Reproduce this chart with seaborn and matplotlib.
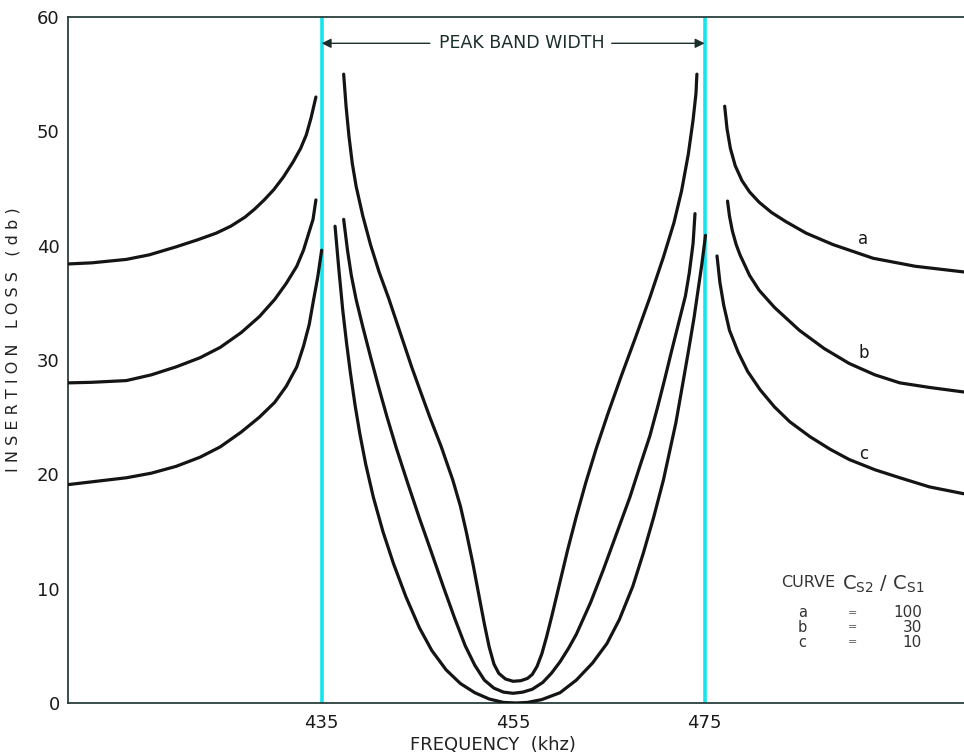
import numpy as np
import pandas as pd
import matplotlib
matplotlib.use('Agg')
import matplotlib.pyplot as plt
import seaborn as sns

# ── Data (frequency in khz, insertion loss in db) ──────────────────────────────
# curve a (Cs2/Cs1 = 100)
a_low_f = [408.5, 411.0, 414.6, 417.0, 419.8, 422.0, 424.0, 425.5, 427.0, 428.0, 429.0,
           430.0, 431.0, 432.0, 432.8, 433.4, 433.9, 434.4]
a_low_db = [38.4, 38.5, 38.8, 39.2, 39.9, 40.5, 41.1, 41.7, 42.5, 43.2, 44.0,
            44.9, 46.0, 47.3, 48.5, 49.7, 51.2, 53.0]
a_pass_f = [437.3, 437.55, 437.85, 438.2, 438.6, 439.3, 440.1, 441.0, 442.0, 442.8, 443.6,
            444.4, 445.3, 446.3, 447.5, 448.7, 449.5, 450.1, 450.8, 451.5, 452.0, 452.5,
            453.0, 453.5, 454.2, 455.0, 455.8, 456.5, 457.0, 457.5, 458.0, 458.5, 459.1,
            459.9, 460.7, 461.6, 462.6, 463.7, 464.9, 466.3, 467.8, 469.3, 470.7, 471.8,
            472.6, 473.3, 473.8, 474.1, 474.2]
a_pass_db = [55.0, 52.2, 49.6, 47.2, 45.2, 42.6, 40.1, 37.7, 35.4, 33.4, 31.4,
             29.4, 27.3, 25.0, 22.4, 19.5, 17.2, 15.0, 12.2, 9.1, 6.9, 4.9,
             3.4, 2.6, 2.1, 1.9, 1.95, 2.15, 2.5, 3.2, 4.3, 5.8, 7.8,
             10.6, 13.4, 16.3, 19.3, 22.3, 25.3, 28.6, 32.0, 35.5, 39.0, 42.0,
             44.8, 48.0, 51.0, 53.3, 55.0]
a_high_f = [477.1, 477.35, 477.7, 478.2, 478.9, 479.7, 480.7, 482.0, 483.5, 485.6, 488.4,
            492.6, 497.0, 502.1]
a_high_db = [52.2, 50.2, 48.5, 47.0, 45.7, 44.7, 43.8, 42.9, 42.1, 41.1, 40.1,
             38.9, 38.2, 37.7]

# curve b (Cs2/Cs1 = 30)
b_low_f = [408.5, 411.0, 414.6, 417.2, 419.8, 422.3, 424.4, 426.6, 428.5, 430.1, 431.3,
           432.4, 433.1, 434.1, 434.4]
b_low_db = [28.0, 28.05, 28.2, 28.7, 29.4, 30.2, 31.1, 32.4, 33.8, 35.3, 36.7,
            38.2, 39.6, 42.3, 44.0]
b_pass_f = [437.3, 437.7, 438.1, 438.6, 439.3, 440.1, 440.9, 441.8, 442.8, 444.0, 445.2,
            446.5, 447.7, 448.9, 450.0, 451.0, 452.0, 453.0, 454.0, 455.0, 456.0, 457.0,
            458.1, 459.0, 459.9, 460.8, 461.6, 463.1, 464.4, 465.8, 467.2, 468.2, 469.3,
            470.1, 470.8, 471.5, 472.4, 473.0, 473.4, 473.8, 474.0]
b_pass_db = [42.3, 39.6, 37.4, 35.3, 32.9, 30.3, 27.8, 25.1, 22.3, 19.2, 16.2,
             13.1, 10.2, 7.4, 5.0, 3.3, 2.0, 1.3, 0.95, 0.85, 0.95, 1.2,
             1.8, 2.6, 3.6, 4.8, 6.0, 8.8, 11.6, 14.8, 18.0, 20.6, 23.4,
             25.9, 28.2, 30.6, 33.6, 35.6, 37.6, 40.2, 42.8]
b_high_f = [477.4, 477.6, 477.9, 478.3, 478.7, 479.7, 480.7, 482.3, 484.9, 487.5, 490.1,
            492.8, 495.4, 498.5, 502.1]
b_high_db = [43.9, 42.6, 41.3, 40.1, 39.2, 37.4, 36.1, 34.6, 32.6, 31.0, 29.7,
             28.7, 28.0, 27.6, 27.2]

# curve c (Cs2/Cs1 = 10)
c_low_f = [408.5, 414.6, 417.2, 419.8, 422.3, 424.4, 426.6, 428.5, 430.1, 431.3, 432.4,
           433.1, 433.7, 434.1, 434.6, 435.0]
c_low_db = [19.1, 19.7, 20.1, 20.7, 21.5, 22.4, 23.7, 25.0, 26.3, 27.7, 29.4,
            31.2, 33.1, 35.0, 37.3, 39.6]
c_pass_f = [436.4, 436.8, 437.2, 437.6, 438.0, 438.5, 439.0, 439.6, 440.4, 441.4, 442.5,
            443.8, 445.2, 446.5, 448.0, 449.5, 451.0, 452.5, 454.0, 455.3, 456.5, 458.0,
            459.9, 461.6, 463.3, 464.8, 466.1, 467.5, 468.6, 469.7, 470.7, 472.0, 472.8,
            473.4, 473.9, 474.3, 474.7, 475.1]
c_pass_db = [41.7, 37.9, 34.4, 31.5, 28.9, 26.0, 23.5, 20.9, 18.0, 15.0, 12.2,
             9.3, 6.6, 4.6, 2.9, 1.7, 0.9, 0.35, 0.05, 0.0, 0.05, 0.3,
             0.9, 2.0, 3.5, 5.2, 7.3, 10.2, 13.1, 16.3, 19.5, 24.5, 28.3,
             31.2, 33.7, 36.0, 38.3, 40.9]
c_high_f = [476.3, 476.6, 477.0, 477.6, 478.5, 479.5, 480.8, 482.3, 483.9, 486.0, 488.1,
            490.1, 492.8, 495.4, 498.5, 502.1]
c_high_db = [39.1, 36.8, 34.8, 32.6, 30.7, 29.0, 27.4, 25.9, 24.6, 23.3, 22.2,
             21.3, 20.4, 19.7, 18.9, 18.3]

band_edges = [435, 475]
x_ticks = [435, 455, 475]
y_ticks = [0, 10, 20, 30, 40, 50, 60]
curve_names = ['a', 'b', 'c']
cs_ratios = ['100', '30', '10']

segments = {
    ('a', 'low'): (a_low_f, a_low_db), ('a', 'pass'): (a_pass_f, a_pass_db), ('a', 'high'): (a_high_f, a_high_db),
    ('b', 'low'): (b_low_f, b_low_db), ('b', 'pass'): (b_pass_f, b_pass_db), ('b', 'high'): (b_high_f, b_high_db),
    ('c', 'low'): (c_low_f, c_low_db), ('c', 'pass'): (c_pass_f, c_pass_db), ('c', 'high'): (c_high_f, c_high_db),
}
rows = []
for (curve, part), (fs, dbs) in segments.items():
    for f, db in zip(fs, dbs):
        rows.append({'freq': f, 'loss': db, 'seg': f'{curve}-{part}'})
df = pd.DataFrame(rows)

# ── Plot ───────────────────────────────────────────────────────────────────────
sns.set_style('white')
plt.rcParams['font.family'] = ['DejaVu Sans']
ink = '#2a3f3c'

fig = plt.figure(figsize=(9.64, 7.56), dpi=100)
ax = fig.add_axes([0.0705, 0.0701, 0.9295, 0.9074])

for edge in band_edges:
    ax.axvline(edge, color='#14e4ee', lw=2.6, zorder=1)

sns.lineplot(data=df, x='freq', y='loss', units='seg', estimator=None, sort=False,
             color='#141414', lw=2.3, ax=ax, zorder=3,
             solid_capstyle='round', solid_joinstyle='round')

ax.set_xlim(408.5, 502.1)
ax.set_ylim(0, 60)
ax.set_xticks(x_ticks)
ax.set_yticks(y_ticks)
ax.tick_params(axis='both', direction='in', length=10, width=1.2, color=ink,
               labelsize=13, labelcolor='#1a1a1a')
ax.tick_params(axis='y', pad=6)
ax.tick_params(axis='x', pad=8)
for side in ['left', 'top', 'bottom']:
    ax.spines[side].set_color(ink)
    ax.spines[side].set_linewidth(1.3)
ax.spines['right'].set_visible(False)

ax.set_xlabel('')
ax.set_ylabel('I N S E R T I O N   L O S S   ( d b )', fontsize=11.5, color='#222222')
ax.yaxis.set_label_coords(-0.053, 0.53)
fig.text(493 / 964, 0.002, 'FREQUENCY  (khz)', ha='center', va='bottom',
         fontsize=13, color='#222222')

# peak band width marker
ax.text(455.9, 57.7, 'PEAK BAND WIDTH', ha='center', va='center', fontsize=12.5, color='#1a2e2c')
arrow = dict(arrowstyle='-|>', lw=1.0, color='#1a2e2c', shrinkA=0, shrinkB=0, mutation_scale=14)
ax.annotate('', xy=(band_edges[0], 57.7), xytext=(446.3, 57.7), arrowprops=arrow)
ax.annotate('', xy=(band_edges[1], 57.7), xytext=(465.3, 57.7), arrowprops=arrow)

# curve labels
for name, y in zip(curve_names, [40.6, 30.6, 21.8]):
    ax.text(491.6, y, name, ha='center', va='center', fontsize=12, color='#1a1a1a')

# key table
ax.text(483.0, 10.5, 'CURVE', ha='left', va='center', fontsize=11.5, color='#333333')
ax.text(489.4, 10.4, r'C$_{\mathrm{S2}}$ / C$_{\mathrm{S1}}$', ha='left', va='center',
        fontsize=14, color='#333333')
for name, ratio, y in zip(curve_names, cs_ratios, [7.9, 6.6, 5.3]):
    ax.text(485.2, y, name, ha='center', va='center', fontsize=10.5, color='#333333')
    ax.text(490.5, y, '=', ha='center', va='center', fontsize=8, color='#555555')
    ax.text(497.7, y, ratio, ha='right', va='center', fontsize=11, color='#333333')

fig.savefig('out.png', dpi=100)
